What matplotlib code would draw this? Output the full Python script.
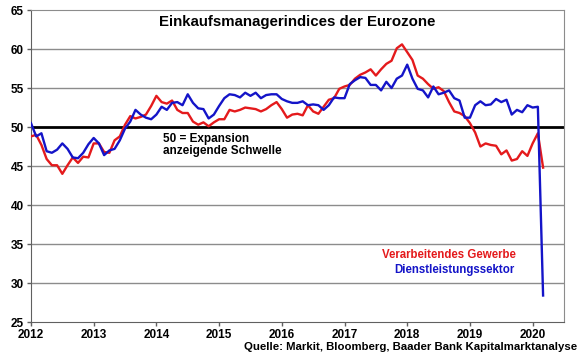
import numpy as np
import matplotlib
matplotlib.use("Agg")
import matplotlib.pyplot as plt

plt.rcParams["font.family"] = ["Liberation Sans", "DejaVu Sans"]

# ── Data: monthly PMI, Jan 2012 – Mar 2020 ─────────────────────────
start_year = 2012
manufacturing = [
    48.8, 49.0, 47.7, 45.9, 45.1, 45.1, 44.0, 45.1, 46.1, 45.4, 46.2, 46.1,   # 2012
    47.9, 47.9, 46.8, 46.7, 48.3, 48.8, 50.3, 51.4, 51.1, 51.3, 51.6, 52.7,   # 2013
    54.0, 53.2, 53.0, 53.4, 52.2, 51.8, 51.8, 50.7, 50.3, 50.6, 50.1, 50.6,   # 2014
    51.0, 51.0, 52.2, 52.0, 52.2, 52.5, 52.4, 52.3, 52.0, 52.3, 52.8, 53.2,   # 2015
    52.3, 51.2, 51.6, 51.7, 51.5, 52.8, 52.0, 51.7, 52.6, 53.5, 53.7, 54.9,   # 2016
    55.2, 55.4, 56.2, 56.7, 57.0, 57.4, 56.6, 57.4, 58.1, 58.5, 60.1, 60.6,   # 2017
    59.6, 58.6, 56.6, 56.2, 55.5, 54.9, 55.1, 54.6, 53.2, 52.0, 51.8, 51.4,   # 2018
    50.5, 49.3, 47.5, 47.9, 47.7, 47.6, 46.5, 47.0, 45.7, 45.9, 46.9, 46.3,   # 2019
    47.9, 49.2, 44.8,                                                         # 2020
]
services = [
    50.5, 48.8, 49.2, 46.9, 46.7, 47.1, 47.9, 47.2, 46.1, 46.0, 46.7, 47.8,   # 2012
    48.6, 47.9, 46.4, 47.0, 47.2, 48.3, 49.8, 50.7, 52.2, 51.6, 51.2, 51.0,   # 2013
    51.6, 52.6, 52.2, 53.1, 53.2, 52.8, 54.2, 53.1, 52.4, 52.3, 51.1, 51.6,   # 2014
    52.7, 53.7, 54.2, 54.1, 53.8, 54.4, 54.0, 54.4, 53.7, 54.1, 54.2, 54.2,   # 2015
    53.6, 53.3, 53.1, 53.1, 53.3, 52.8, 52.9, 52.8, 52.2, 52.8, 53.8, 53.7,   # 2016
    53.7, 55.5, 56.0, 56.4, 56.3, 55.4, 55.4, 54.7, 55.8, 55.0, 56.2, 56.6,   # 2017
    58.0, 56.2, 54.9, 54.7, 53.8, 55.2, 54.2, 54.4, 54.7, 53.7, 53.4, 51.2,   # 2018
    51.2, 52.8, 53.3, 52.8, 52.9, 53.6, 53.2, 53.5, 51.6, 52.2, 51.9, 52.8,   # 2019
    52.5, 52.6, 28.4,                                                         # 2020
]
year_ticks = list(range(2012, 2021))
y_ticks = [25, 30, 35, 40, 45, 50, 55, 60, 65]

x = start_year + np.arange(len(manufacturing)) / 12

# ── Plot ───────────────────────────────────────────────────────────
fig = plt.figure(figsize=(5.8, 3.59), dpi=100)
ax = fig.add_axes([0.0534, 0.103, 0.919, 0.869])

for y in y_ticks[1:-1]:
    if y != 50:
        ax.axhline(y, color="#8c8c8c", lw=1.0, zorder=1)
ax.axhline(50, color="black", lw=2.0, zorder=2)

ax.plot(x, manufacturing, color="#e41a1c", lw=1.7, zorder=3)
ax.plot(x, services, color="#1414c8", lw=1.7, zorder=4)

ax.set_xlim(2012, 2020.5)
ax.set_ylim(25, 65)
ax.set_xticks(year_ticks)
ax.set_yticks(y_ticks)
ax.tick_params(axis="both", labelsize=8.5, length=3, width=1, color="#606060", pad=2)
for lbl in ax.get_xticklabels() + ax.get_yticklabels():
    lbl.set_fontweight("bold")
for sp in ax.spines.values():
    sp.set_color("#8c8c8c")
ax.spines["left"].set_color("#606060")
ax.spines["bottom"].set_color("#606060")

ax.text(0.5, 0.962, "Einkaufsmanagerindices der Eurozone", transform=ax.transAxes,
        ha="center", va="center", fontsize=10.8, fontweight="bold")
ax.text(2014.1, 49.3, "50 = Expansion\nanzeigende Schwelle", ha="left", va="top",
        fontsize=8.5, fontweight="bold", linespacing=1.0)
ax.text(2019.74, 33.6, "Verarbeitendes Gewerbe", color="#e41a1c", ha="right", va="center",
        fontsize=8.3, fontweight="bold")
ax.text(2019.71, 31.7, "Dienstleistungssektor", color="#1414c8", ha="right", va="center",
        fontsize=8.3, fontweight="bold")

fig.text(0.995, 0.033, "Quelle: Markit, Bloomberg, Baader Bank Kapitalmarktanalyse",
         ha="right", va="center", fontsize=8.2, fontweight="bold")

fig.savefig("out.png", dpi=100)
